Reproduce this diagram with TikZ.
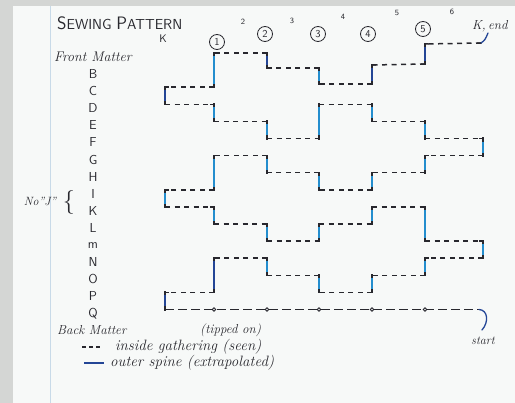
\documentclass[tikz,border=0pt]{standalone}
\usepackage{fontspec}
\usetikzlibrary{calc}
\definecolor{paper}{RGB}{247,249,248}
\definecolor{edge}{RGB}{212,214,212}
\definecolor{marginline}{RGB}{200,218,232}
\definecolor{ink}{RGB}{40,40,46}
\definecolor{spine}{RGB}{36,142,206}
\definecolor{navy}{RGB}{36,70,150}
\begin{document}
\begin{tikzpicture}[x=1pt,y=-1pt,
  gath/.style={draw=ink,line width=1.5pt,dash pattern=on 5pt off 4.5pt},
  stub/.style={draw=ink,line width=1.5pt,line cap=rect},
  sp/.style={line width=2.1pt,line cap=rect},
  lbl/.style={inner sep=0pt,text=ink},
  printed/.style={lbl,font=\sffamily\fontsize{13}{13}\selectfont},
  cursive/.style={lbl,font=\itshape\fontsize{13}{13}\selectfont},
  circnum/.style={draw=ink,circle,line width=0.8pt,minimum size=15pt,inner sep=0pt,text=ink,font=\sffamily\fontsize{10.5}{10.5}\selectfont},
  gapnum/.style={lbl,font=\sffamily\fontsize{8}{8}\selectfont},
  tipdot/.style={circle,draw=ink,fill=paper,line width=0.8pt,minimum size=3.5pt,inner sep=0pt},
]
\useasboundingbox (0,0) rectangle (515,403);
\fill[paper] (0,0) rectangle (515,403);
\fill[edge] (0,0) rectangle (13,403);
\fill[edge] (0,0) rectangle (515,6);
\draw[marginline,line width=1pt] (50,6) -- (50,403);

% grid of corner points
\foreach \c/\x in {0/165,1/214,2/267,3/319,4/372,5/425,6/483}{
  \foreach \r in {0,...,15}{
    \coordinate (p-\c-\r) at (\x,{53+17.1*\r});
  }
}
\coordinate (p-5-0) at (425,44);
\coordinate (p-6-0) at (481,43);
\coordinate (p-2-1) at (267,68);
\coordinate (p-3-1) at (319,68);
\coordinate (p-4-1) at (372,65);
\coordinate (p-5-1) at (425,64);
\coordinate (p-3-2) at (319,84);
\coordinate (p-4-2) at (372,84);

\def\pathlist{5/0/navy,5/1/navy,4/1/navy,4/2/navy,3/2/spine,3/1/spine,2/1/spine,2/0/navy,1/0/spine,1/2/spine,0/2/spine,0/3/navy,1/3/spine,1/4/spine,2/4/spine,2/5/spine,3/5/spine,3/3/spine,4/3/spine,4/4/spine,5/4/spine,5/5/spine,6/5/spine,6/6/spine,5/6/spine,5/7/spine,4/7/spine,4/8/spine,3/8/spine,3/7/spine,2/7/spine,2/6/spine,1/6/spine,1/8/spine,0/8/spine,0/9/spine,1/9/spine,1/10/spine,2/10/spine,2/11/spine,3/11/spine,3/10/spine,4/10/spine,4/9/spine,5/9/spine,5/11/spine,6/11/spine,6/12/spine,5/12/spine,5/13/spine,4/13/spine,4/14/spine,3/14/spine,3/13/spine,2/13/spine,2/12/spine,1/12/spine,1/14/navy,0/14/spine,0/15/navy}

% outer spines (blue verticals)
\foreach \c/\r/\k [remember=\c as \pc (initially 6), remember=\r as \pr (initially 0)] in \pathlist {
  \ifnum\r=\pr\relax\else
    \draw[sp,draw=\k] (p-\pc-\pr) -- (p-\c-\r);
  \fi
}
% inside gatherings (dashed) and black corners
\foreach \c/\r/\k [remember=\c as \pc (initially 6), remember=\r as \pr (initially 0)] in \pathlist {
  \ifnum\r=\pr\relax
    \draw[gath] (p-\pc-\pr) -- (p-\c-\r);
    \draw[stub] (p-\pc-\pr) -- ($(p-\pc-\pr)!3pt!(p-\c-\r)$);
    \draw[stub] (p-\c-\r) -- ($(p-\c-\r)!3pt!(p-\pc-\pr)$);
  \else
    \draw[stub,line width=2.1pt] (p-\pc-\pr) -- ($(p-\pc-\pr)!2pt!(p-\c-\r)$);
    \draw[stub,line width=2.1pt] (p-\c-\r) -- ($(p-\c-\r)!2pt!(p-\pc-\pr)$);
  \fi
}

% tipped-on leaf
\coordinate (tipend) at (479,{53+17.1*15});
\draw[ink,line width=1.4pt,dash pattern=on 9pt off 4pt] (p-0-15) -- (tipend);
\draw[stub] (p-0-15) -- ($(p-0-15)!3pt!(tipend)$);
\foreach \c in {1,...,5}{\node[tipdot] (tip-\c) at (p-\c-15) {};}
\coordinate (startcurl) at (482,330);
\draw[navy,line width=1.3pt,line cap=round] (tipend) .. controls (488,310) and (489,322) .. (startcurl);
\node[cursive,font=\itshape\fontsize{12}{12}\selectfont] (startlbl) at (483,341) {start};

% end curl
\coordinate (endcurl) at (488,33);
\draw[navy,line width=1.3pt,line cap=round] (p-6-0) .. controls (485,40) .. (endcurl);
\node[cursive,anchor=west] (endlbl) at (472,26) {K,\,end};

% title and headers
\node[lbl,anchor=west,font=\sffamily] (title) at (57,23)
  {{\fontsize{18}{18}\selectfont S}{\fontsize{14.5}{14.5}\selectfont EWING }{\fontsize{18}{18}\selectfont P}{\fontsize{14.5}{14.5}\selectfont ATTERN}};
\node[printed,font=\sffamily\fontsize{11}{11}\selectfont] (hK) at (163,39) {K};
\node[circnum] (h1) at (217,42) {1};
\node[circnum] (h2) at (265,34) {2};
\node[circnum] (h3) at (318,34) {3};
\node[circnum] (h4) at (368,34) {4};
\node[circnum] (h5) at (423,29) {5};
\node[gapnum] (g2) at (243,22) {2};
\node[gapnum] (g3) at (292,21) {3};
\node[gapnum] (g4) at (343,17) {4};
\node[gapnum] (g5) at (397,13) {5};
\node[gapnum] (g6) at (452,12) {6};

% row labels
\node[cursive,anchor=west,font=\itshape\fontsize{14}{14}\selectfont] (front) at (54,57) {Front Matter};
\foreach \l [count=\i] in {B,C,D,E,F,G,H,I,K,L,m,N,O,P,Q}{
  \node[printed] (row-\i) at (93,{57+17.1*\i}) {\l};
}
\node[cursive,font=\itshape\fontsize{12}{12}\selectfont] (noj) at (40,201) {No"J"};
\node[lbl,font=\fontsize{24}{24}\selectfont] (brace) at (69,203) {\{};
\node[cursive,anchor=west] (back) at (57,330) {Back Matter};
\node[cursive,anchor=west] (tipped) at (200,330) {(tipped on)};

% legend
\coordinate (lg1a) at (82,347);
\coordinate (lg1b) at (101,347);
\draw[ink,line width=1.4pt,dash pattern=on 4pt off 3pt] (lg1a) -- (lg1b);
\node[cursive,anchor=west,font=\itshape\fontsize{15}{15}\selectfont] (lg1) at (115,347) {inside gathering (seen)};
\coordinate (lg2a) at (84,363);
\coordinate (lg2b) at (104,363);
\draw[navy,line width=2.6pt] (lg2a) -- (lg2b);
\node[cursive,anchor=west,font=\itshape\fontsize{15}{15}\selectfont] (lg2) at (110,363) {outer spine (extrapolated)};
\end{tikzpicture}
\end{document}
